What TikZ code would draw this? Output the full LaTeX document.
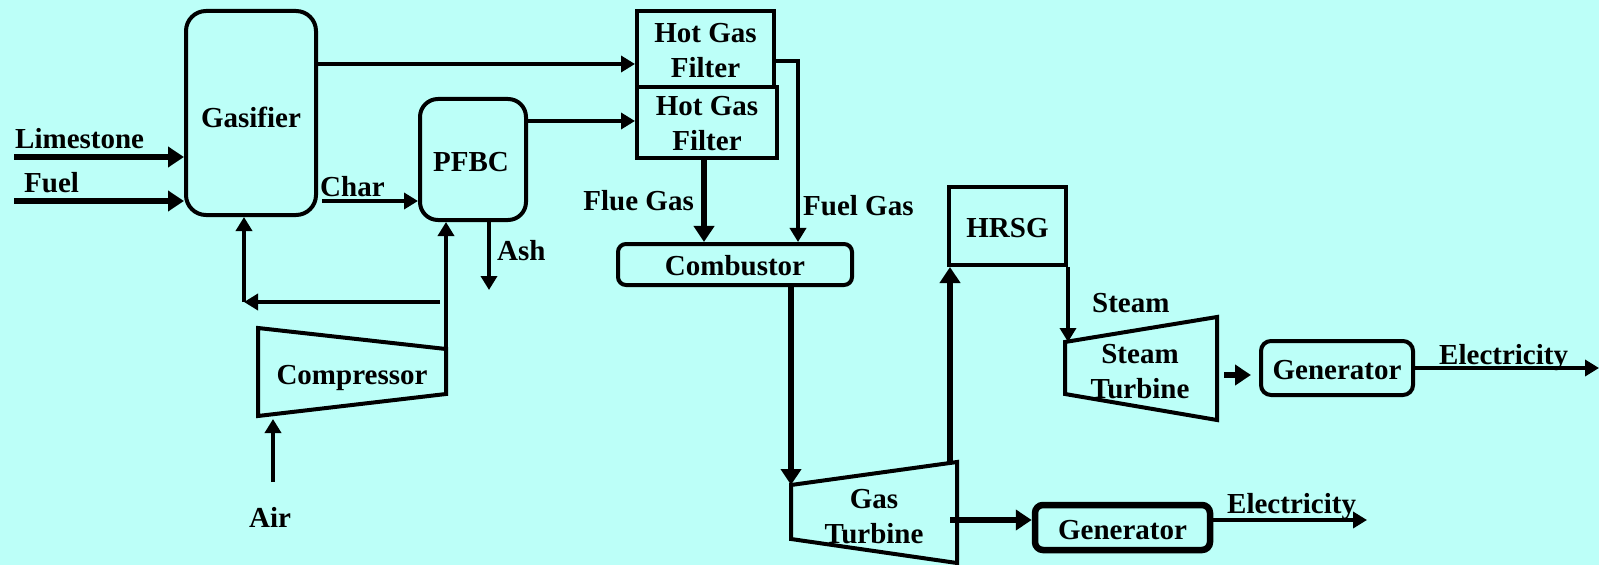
\documentclass[tikz,border=0pt]{standalone}
\usepackage{fontspec}
\setmainfont{Liberation Serif}
\usetikzlibrary{arrows.meta,calc}
\definecolor{bgc}{RGB}{188,255,248}
\begin{document}
\begin{tikzpicture}[x=1bp,y=-1bp,
  every node/.style={font=\fontsize{29bp}{35bp}\selectfont\bfseries, inner sep=0pt},
  blk/.style={draw, line width=4bp, align=center},
  ln/.style={line width=3.5bp},
  thk/.style={line width=6bp},
  tip/.style={-{Triangle[length=14bp,width=16bp]}},
  tipb/.style={-{Triangle[length=16bp,width=20bp]}},
  trap/.style={draw, line width=4bp, line join=miter}
]
\fill[bgc] (0,0) rectangle (1599,565);
\useasboundingbox (0,0) rectangle (1599,565);

% blocks
\node[blk, rounded corners=20bp, minimum width=130bp, minimum height=204bp] (gas) at (251,113) {};
\node (gast) at (251,117) {Gasifier};
\node[blk, rounded corners=18bp, minimum width=106bp, minimum height=121bp] (pfbc) at (473,159.5) {};
\node (pfbct) at (471,162) {PFBC};
\node[blk, minimum width=137bp, minimum height=76bp] (f1) at (705.5,49) {};
\node[align=center] (f1t) at (705.5,51) {Hot Gas\\Filter};
\node[blk, minimum width=140bp, minimum height=71bp] (f2) at (707,122.5) {};
\node[align=center] (f2t) at (707,124) {Hot Gas\\Filter};
\node[blk, rounded corners=8bp, minimum width=234bp, minimum height=41bp] (comb) at (735,264.5) {};
\node (combt) at (735,266) {Combustor};
\node[blk, minimum width=117bp, minimum height=78bp] (hrsg) at (1007.5,226) {};
\node (hrsgt) at (1007.5,228) {HRSG};
\node[blk, rounded corners=10bp, minimum width=152bp, minimum height=54bp] (gen1) at (1337,368) {};
\node (gen1t) at (1337,370) {Generator};
\node[blk, line width=6.5bp, rounded corners=8bp, minimum width=175bp, minimum height=45bp] (gen2) at (1122.5,527.5) {};
\node (gen2t) at (1122.5,530) {Generator};

% trapezoids
\coordinate (c1) at (258,328); \coordinate (c2) at (446,349);
\coordinate (c3) at (446,394); \coordinate (c4) at (258,416);
\draw[trap] (c1) -- (c2) -- (c3) -- (c4) -- cycle;
\node (comp) at (352,378) {Compressor};

\coordinate (g1) at (791,485); \coordinate (g2) at (957,462);
\coordinate (g3) at (957,563); \coordinate (g4) at (791,539);
\draw[trap] (g1) -- (g2) -- (g3) -- (g4) -- cycle;
\node[align=center] (gt) at (874,517) {Gas\\Turbine};

\coordinate (s1) at (1065,342); \coordinate (s2) at (1217,317);
\coordinate (s3) at (1217,420); \coordinate (s4) at (1065,394);
\draw[trap] (s1) -- (s2) -- (s3) -- (s4) -- cycle;
\node[align=center] (st) at (1140,372) {Steam\\Turbine};

% labels
\node[anchor=base west] (limel) at (15,149) {Limestone};
\node[anchor=base west] (fuell) at (24,193) {Fuel};
\node[anchor=base west] (charl) at (320,197) {Char};
\node[anchor=base west] (ashl) at (497,260) {Ash};
\node[anchor=base east] (fluel) at (694,211) {Flue Gas};
\node[anchor=base west] (fgl) at (803,216) {Fuel Gas};
\node[anchor=base west] (steaml) at (1092,312) {Steam};
\node[anchor=base west] (el1) at (1439,364) {Electricity};
\node[anchor=base west] (el2) at (1227,513) {Electricity};
\node[anchor=base] (airl) at (270,527) {Air};

% helper coordinates
\coordinate (limes) at (14,157);
\coordinate (fuel) at (14,201);
\coordinate (charS) at (322,201);
\coordinate (y64) at (0,64);
\coordinate (y121) at (0,121);
\coordinate (fg) at (798,61);
\coordinate (fl) at (704,0);
\coordinate (cg) at (791,0);
\coordinate (hx) at (950,463);
\coordinate (stA) at (1224,375);
\coordinate (stB) at (1251,375);
\coordinate (e1) at (1599,368);
\coordinate (gA) at (950,520);
\coordinate (e2) at (1367,520);
\coordinate (ash) at (489,290);
\coordinate (airS) at (273,482);
\coordinate (airE) at (273,419);
\coordinate (br1) at (440,302);
\coordinate (br2) at (244,302);

% connectors
\draw[thk,tipb] (limes) -- (gas.west |- limes);
\draw[thk,tipb] (fuel) -- (gas.west |- fuel);
\draw[ln,tip] (charS) -- (pfbc.west |- charS);
\draw[ln,tip] (gas.east |- y64) -- (f1.west |- y64);
\draw[ln,tip] (pfbc.east |- y121) -- (f2.west |- y121);
\draw[ln,tip] (f1.east |- fg) -- (fg) -- (fg |- comb.north);
\draw[thk,tipb] (f2.south -| fl) -- (comb.north -| fl);
\draw[thk,tipb] (comb.south -| cg) -- (g1);
\draw[thk,tipb] (hx) -- (hx |- hrsg.south);
\draw[ln,tip] (hrsg.south east) -- (hrsg.south east |- s1);
\draw[thk,tipb] (stA) -- (stB);
\draw[ln,tip] (gen1.east) -- (e1);
\draw[thk,tipb] (gA) -- (gen2.west |- gA);
\draw[ln,tip] (gen2.east |- e2) -- (e2);
\draw[ln,tip] (pfbc.south -| ash) -- (ash);
\draw[ln,tip] (airS) -- (airE);
\draw[ln,tip] (c2) -- (c2 |- pfbc.south);
\draw[ln,tip] (br1) -- (br2);
\draw[ln,tip] (br2) -- (br2 |- gas.south);
\end{tikzpicture}
\end{document}
